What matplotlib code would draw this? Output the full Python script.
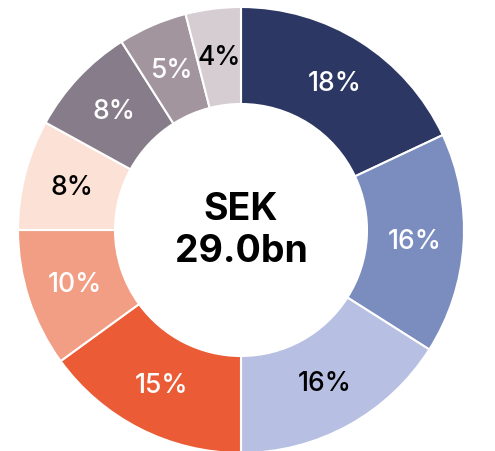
import matplotlib
matplotlib.use("Agg")
import matplotlib.pyplot as plt

shares = [18, 16, 16, 15, 10, 8, 8, 5, 4]
labels = ["18%", "16%", "16%", "15%", "10%", "8%", "8%", "5%", "4%"]
colors = ["#2C3863", "#7B8DBF", "#B7BFE2", "#EB5C36", "#F29E85",
          "#FCE2D6", "#877D8A", "#A3959E", "#D5CDD2"]
text_colors = ["white", "white", "black", "white", "white",
               "black", "white", "white", "black"]
center_text = "SEK\n29.0bn"

plt.rcParams['font.family'] = ['Inter', 'DejaVu Sans']

fig = plt.figure(figsize=(4.95, 4.52), dpi=100)
ax = fig.add_axes([0, 0, 1, 1])
R = 223.0
cx, cy = 241.0, 452 - 231.0

inner = 0.565
wedges, texts = ax.pie(shares, colors=colors, startangle=90, counterclock=False,
                       radius=1.0, labels=labels, labeldistance=(1 + inner) / 2,
                       wedgeprops=dict(width=1 - inner, edgecolor='white', linewidth=1.5),
                       textprops=dict(fontsize=19, fontweight='medium', ha='center', va='center'))
for t, c in zip(texts, text_colors):
    t.set_color(c)

ax.text(0, 0.0, center_text, ha='center', va='center', fontsize=27,
        fontweight='bold', color='black', linespacing=1.2)

ax.set_aspect('auto')
ax.set_xlim(-cx / R, (495 - cx) / R)
ax.set_ylim(-cy / R, (452 - cy) / R)
ax.axis('off')

fig.savefig("out.png", dpi=100)
